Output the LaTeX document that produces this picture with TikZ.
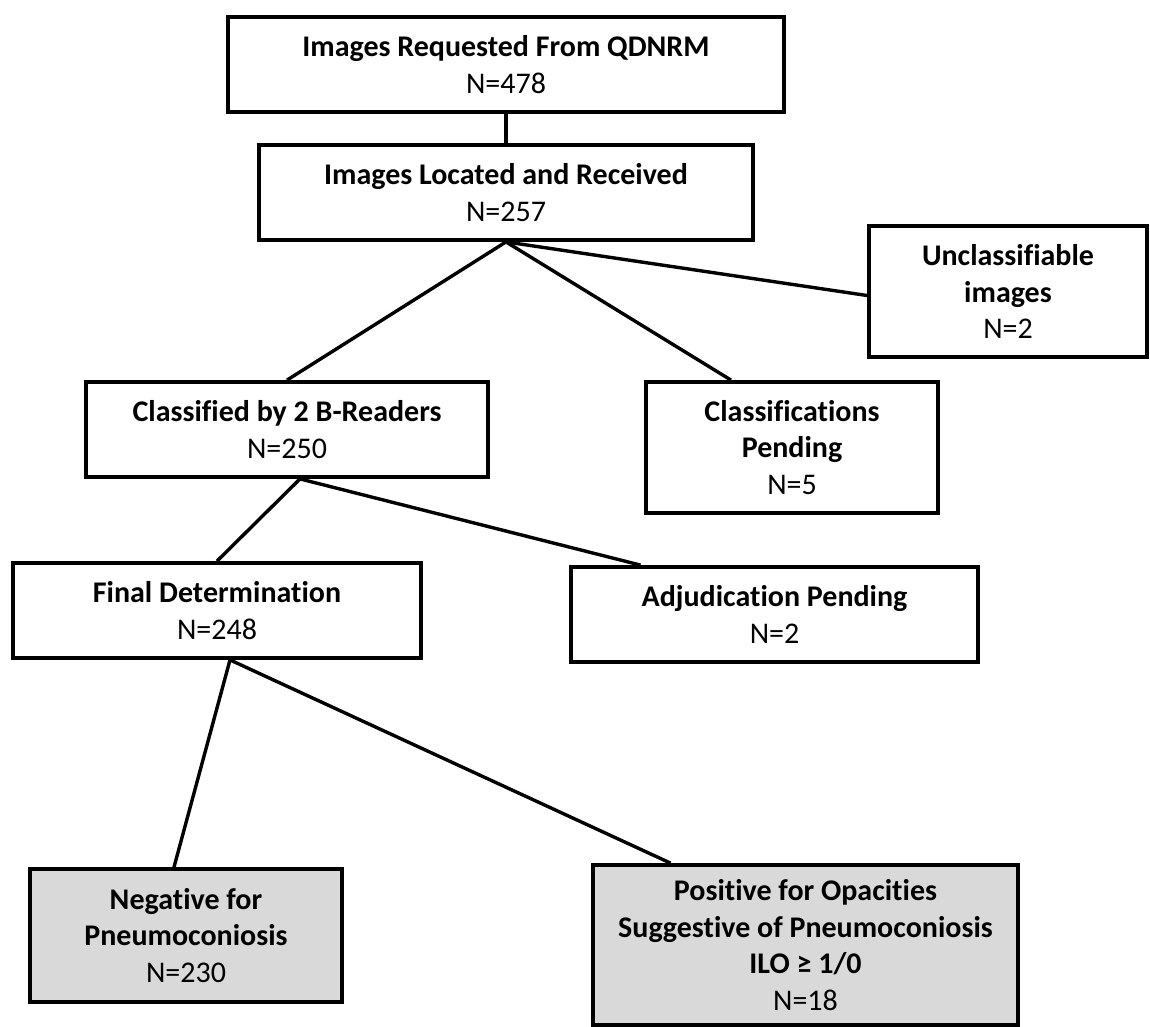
\documentclass[tikz,border=0pt]{standalone}
\usepackage{fontspec}
\setmainfont{Carlito}[Ligatures=NoCommon]
\usetikzlibrary{positioning}
\tikzset{
  stage/.style={draw,rectangle,line width=3.8pt,fill=white,inner sep=2pt,align=center,
    font=\fontsize{30}{36.5}\selectfont},
  result/.style={stage,fill=gray!30},
  link/.style={line width=3.4pt}
}

\begin{document}
\begin{tikzpicture}[x=1pt,y=-1pt]
  \useasboundingbox (0,0) rectangle (1150,1026);
  \node[stage,minimum width=556pt,minimum height=95pt] (req) at (506,64.5)
    {\textbf{Images Requested From QDNRM}\\N=478};
  \node[stage,minimum width=494pt,minimum height=95pt] (rec) at (506,192.5)
    {\textbf{Images Located and Received}\\N=257};
  \node[stage,minimum width=278pt,minimum height=131pt] (uncl) at (1008,291.5)
    {\textbf{Unclassifiable}\\\textbf{images}\\N=2};
  \node[stage,minimum width=402pt,minimum height=95pt] (bread) at (287,429.5)
    {\textbf{Classified by 2 B-Readers}\\N=250};
  \node[stage,minimum width=292pt,minimum height=131pt] (cpend) at (792,447.5)
    {\textbf{Classifications}\\\textbf{Pending}\\N=5};
  \node[stage,minimum width=408pt,minimum height=95pt] (final) at (217,610.5)
    {\textbf{Final Determination}\\N=248};
  \node[stage,minimum width=407pt,minimum height=95pt] (apend) at (774.5,614.5)
    {\textbf{Adjudication Pending}\\N=2};
  \node[result,minimum width=312pt,minimum height=133pt] (neg) at (186,935.5)
    {\textbf{Negative for}\\\textbf{Pneumoconiosis}\\N=230};
  \node[result,minimum width=425pt,minimum height=160pt] (pos) at (805.5,945)
    {\textbf{Positive for Opacities}\\\textbf{Suggestive of Pneumoconiosis}\\\textbf{ILO ≥ 1/0}\\N=18};

  \draw[link] (req.south)--(rec.north);
  \draw[link] (rec.south)--(bread.north);
  \draw[link] (rec.south)--([xshift=-61pt]cpend.north);
  \draw[link] (rec.south)--([yshift=-4pt]uncl.west);
  \draw[link] ([xshift=13pt]bread.south)--(final.north);
  \draw[link] ([xshift=13pt]bread.south)--([xshift=-134pt]apend.north);
  \draw[link] ([xshift=13pt]final.south)--([xshift=-12pt]neg.north);
  \draw[link] ([xshift=13pt]final.south)--([xshift=-135pt]pos.north);
\end{tikzpicture}
\end{document}
